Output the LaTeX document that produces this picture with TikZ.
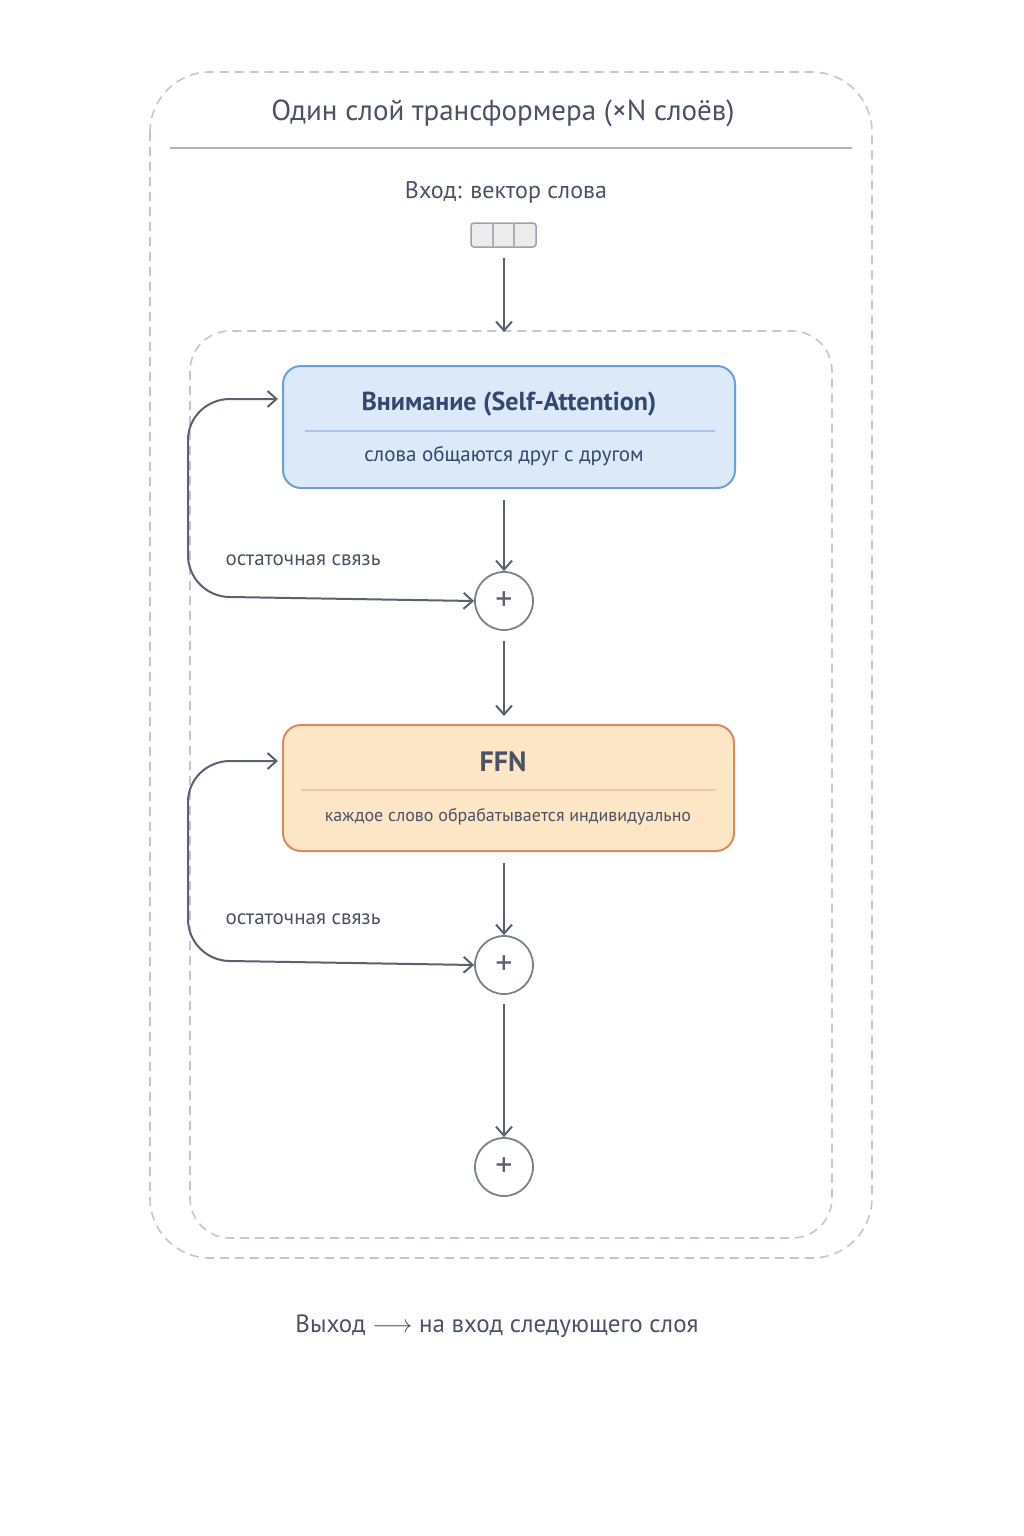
\documentclass[tikz,border=0pt]{standalone}
\usepackage{fontspec}
\setmainfont{PT Sans}
\usetikzlibrary{arrows.meta}
\definecolor{ink}{HTML}{4A5263}
\definecolor{arr}{HTML}{5A6272}
\definecolor{dash}{HTML}{C4C6D4}
\definecolor{bfill}{HTML}{DCE9F8}
\definecolor{bline}{HTML}{6E9FDA}
\definecolor{btxt}{HTML}{34476E}
\definecolor{ofill}{HTML}{FDE6C6}
\definecolor{oline}{HTML}{D98B5F}
\begin{document}
\begin{tikzpicture}[x=1pt,y=-1pt,
  flow/.style={draw=arr,line width=2pt,-{Straight Barb[length=9pt,width=16pt]}},
  plus/.style={circle,draw=arr!80,line width=1.8pt,minimum size=58pt,inner sep=0pt,font=\fontsize{34}{34}\selectfont,text=arr},
  lbl/.style={text=ink,font=\fontsize{21}{24}\selectfont},
  frame/.style={draw=dash,line width=1.6pt,dash pattern=on 9pt off 6pt}]
\useasboundingbox (0,0) rectangle (1024,1536);
\fill[white] (0,0) rectangle (1024,1536);
% outer frame
\draw[frame,rounded corners=60pt] (150,72) rectangle (872,1258);
\node[text=ink,font=\fontsize{29}{32}\selectfont] (title) at (503,113) {Один слой трансформера (×N слоёв)};
\draw[dash!90!black,line width=1.5pt] (170,148) -- (852,148);
\node[lbl,font=\fontsize{24}{28}\selectfont] (in) at (506,192) {Вход: вектор слова};
\node[draw=arr!60,fill=gray!15,line width=1.5pt,rounded corners=3pt,minimum width=65pt,minimum height=24pt,inner sep=0pt] (vec) at (503.5,235) {};
\draw[arr!50,line width=1.2pt] (493,223) -- (493,247) (514,223) -- (514,247);
% inner frame
\draw[frame,rounded corners=40pt] (190,331) rectangle (832,1238);
\coordinate (top) at (504,258);
\coordinate (topend) at (504,332);
\draw[flow] (top) -- (topend);
% attention
\draw[fill=bfill,draw=bline,line width=2pt,rounded corners=18pt] (283,366) rectangle (735,488);
\node[text=btxt,font=\bfseries\fontsize{26}{30}\selectfont] (att) at (509,404) {Внимание (Self-Attention)};
\draw[bline!60,line width=1.2pt] (305,431) -- (715,431);
\node[text=btxt,font=\fontsize{21}{24}\selectfont] (attsub) at (504,456) {слова общаются друг с другом};
\coordinate (attL) at (278,399);
\coordinate (attB) at (504,500);
\node[plus] (p1) at (504,601) {+};
\draw[flow] (attB) -- (p1);
\coordinate (r1) at (188,500);
\draw[flow] (r1) -- (188,440) to[out=90,in=180] (230,399) -- (attL);
\draw[flow] (r1) -- (188,555) to[out=-90,in=180] (230,597) -- (p1.west);
\node[lbl] (l1) at (303,560) {остаточная связь};
% FFN
\coordinate (ffnT) at (504,716);
\draw[flow] (p1.south) ++(0,10) coordinate (p1b) -- (ffnT);
\draw[fill=ofill,draw=oline,line width=2pt,rounded corners=18pt] (283,725) rectangle (734,851);
\node[text=ink,font=\bfseries\fontsize{28}{32}\selectfont] (ffn) at (503,762) {FFN};
\draw[oline!50,line width=1.2pt] (301,790) -- (716,790);
\node[text=ink,font=\fontsize{18}{22}\selectfont] (ffnsub) at (508,817) {каждое слово обрабатывается индивидуально};
\coordinate (ffnL) at (278,761);
\coordinate (ffnB) at (504,863);
\node[plus] (p2) at (504,965) {+};
\draw[flow] (ffnB) -- (p2);
\coordinate (r2) at (188,860);
\draw[flow] (r2) -- (188,802) to[out=90,in=180] (230,761) -- (ffnL);
\draw[flow] (r2) -- (188,919) to[out=-90,in=180] (230,961) -- (p2.west);
\node[lbl] (l2) at (303,919) {остаточная связь};
% final
\node[plus] (p3) at (504,1167) {+};
\draw[flow] (p2.south) ++(0,9) coordinate (p2b) -- (p3.north);
\node[text=ink,font=\fontsize{25}{28}\selectfont] (out) at (497,1326) {Выход {\fontsize{30}{30}\selectfont$\longrightarrow$} на вход следующего слоя};
\end{tikzpicture}
\end{document}
